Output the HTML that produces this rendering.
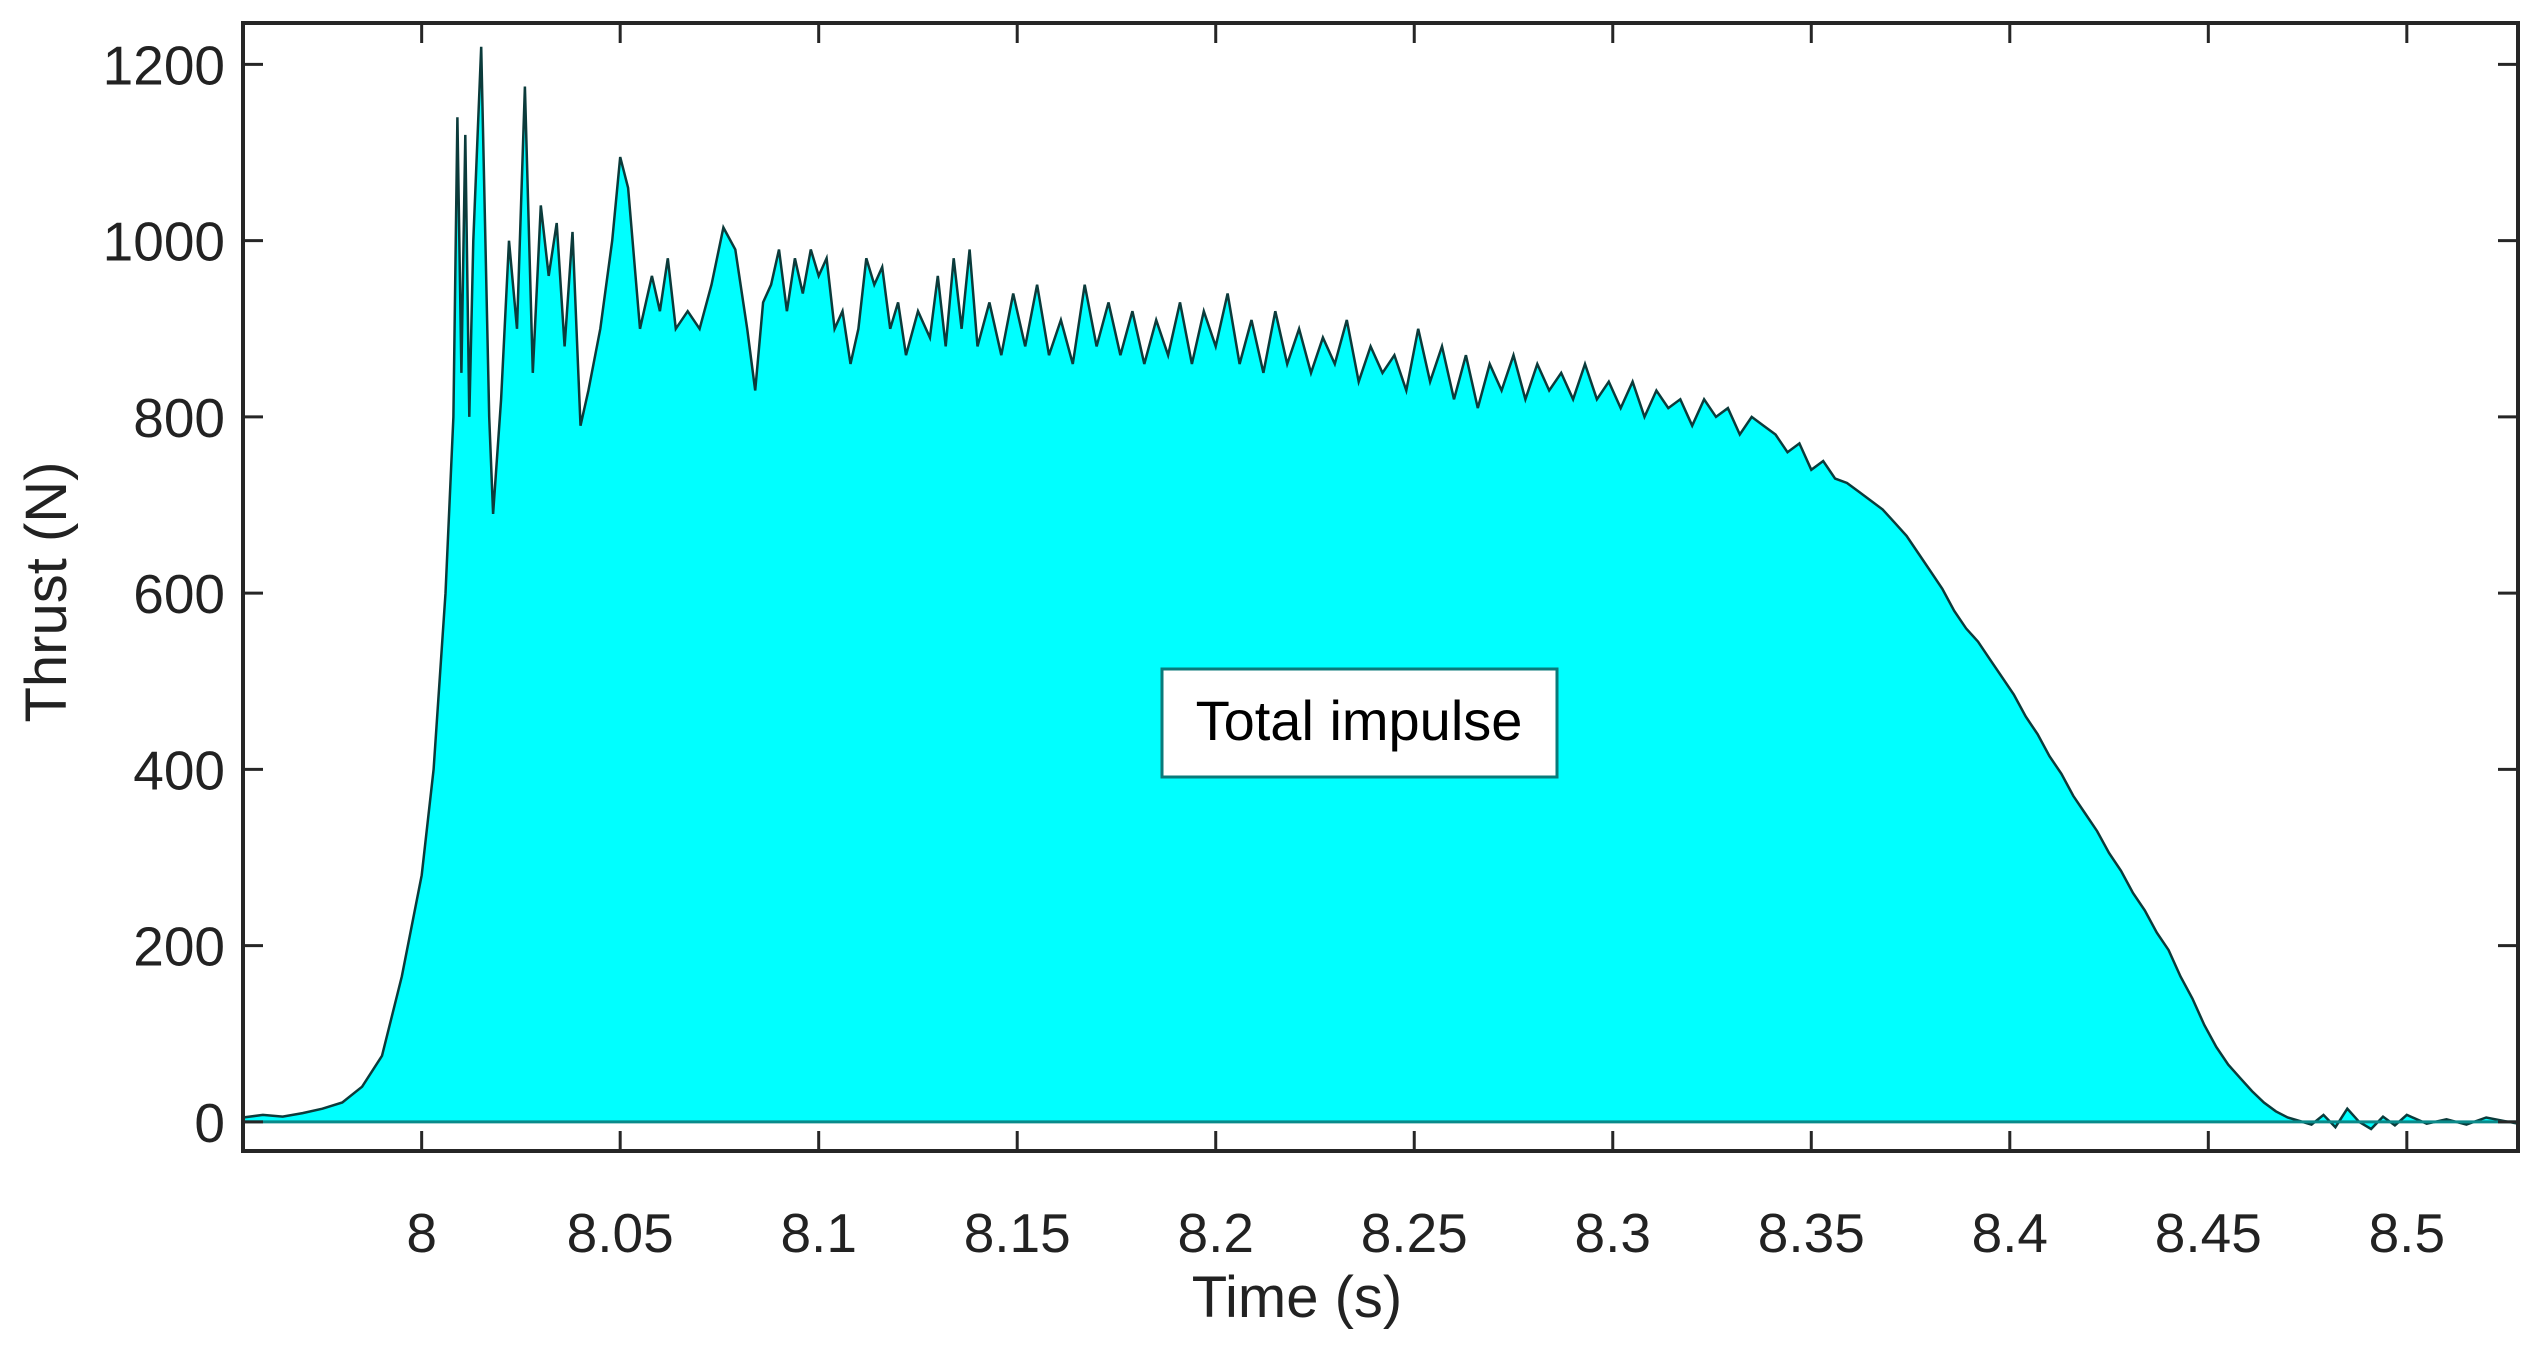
<!DOCTYPE html>
<html><head><meta charset="utf-8">
<style>
html,body{margin:0;padding:0;background:#fff;}
svg{display:block;font-family:"Liberation Sans",Arial,sans-serif;}
</style></head>
<body>
<svg id="chart" width="2542" height="1356" viewBox="0 0 2542 1356" xmlns="http://www.w3.org/2000/svg">
<rect x="0" y="0" width="2542" height="1356" fill="#fff"/>
<g id="plot"></g>
<g id="axes"></g>
<g>
<rect x="1162" y="669" width="395" height="108" fill="#fff" stroke="#0a7a7a" stroke-width="3"/>
<text x="1359" y="740" font-size="56" text-anchor="middle" fill="#000">Total impulse</text>
</g>
<text x="1297" y="1317" font-size="58" text-anchor="middle" fill="#222">Time (s)</text>
<text x="0" y="0" font-size="58" text-anchor="middle" fill="#222" transform="translate(66,592) rotate(-90)">Thrust (N)</text>
</svg>
<script>
const times = [
7.955,7.96,7.965,7.97,7.975,7.98,7.985,7.99,7.995,8.0,
8.003,8.006,8.008,8.009,8.010,8.011,8.012,8.013,8.015,8.017,
8.018,8.020,8.022,8.024,8.026,8.028,8.030,8.032,8.034,8.036,
8.038,8.040,8.042,8.045,8.048,8.050,8.052,8.055,8.058,8.060,
8.062,8.064,8.067,8.070,8.073,8.076,8.079,8.082,8.084,8.086,
8.088,8.090,8.092,8.094,8.096,8.098,8.100,8.102,8.104,8.106,
8.108,8.110,8.112,8.114,8.116,8.118,8.120,8.122,8.125,8.128,
8.130,8.132,8.134,8.136,8.138,8.140,
8.143,8.146,8.149,8.152,8.155,8.158,8.161,8.164,8.167,8.170,
8.173,8.176,8.179,8.182,8.185,8.188,8.191,8.194,8.197,8.200,
8.203,8.206,8.209,8.212,8.215,8.218,8.221,8.224,8.227,8.230,
8.233,8.236,8.239,8.242,8.245,8.248,8.251,8.254,8.257,8.260,
8.263,8.266,8.269,8.272,8.275,8.278,8.281,8.284,8.287,8.290,
8.293,8.296,8.299,8.302,8.305,8.308,8.311,8.314,8.317,8.320,
8.323,8.326,8.329,8.332,8.335,8.338,8.341,8.344,8.347,8.350,
8.353,8.356,8.359,8.362,8.365,
8.368,8.371,8.374,8.377,8.380,8.383,8.386,8.389,8.392,8.395,
8.398,8.401,8.404,8.407,8.410,8.413,8.416,8.419,8.422,8.425,
8.428,8.431,8.434,8.437,8.440,8.443,8.446,8.449,8.452,8.455,
8.458,8.461,8.464,8.467,8.470,8.473,8.476,8.479,8.482,8.485,
8.488,8.491,8.494,8.497,8.500,8.505,8.510,8.515,8.520,8.528];
const thrust = [
5,8,6,10,15,22,40,75,165,280,
400,600,800,1140,850,1120,800,1000,1220,800,
690,820,1000,900,1175,850,1040,960,1020,880,
1010,790,830,900,1000,1095,1060,900,960,920,
980,900,920,900,950,1015,990,900,830,930,
950,990,920,980,940,990,960,980,900,920,
860,900,980,950,970,900,930,870,920,890,
960,880,980,900,990,880,
930,870,940,880,950,870,910,860,950,880,
930,870,920,860,910,870,930,860,920,880,
940,860,910,850,920,860,900,850,890,860,
910,840,880,850,870,830,900,840,880,820,
870,810,860,830,870,820,860,830,850,820,
860,820,840,810,840,800,830,810,820,790,
820,800,810,780,800,790,780,760,770,740,
750,730,725,715,705,
695,680,665,645,625,605,580,560,545,525,
505,485,460,440,415,395,370,350,330,305,
285,260,240,215,195,165,140,110,85,65,
50,35,22,12,5,1,-3,8,-6,15,
0,-8,6,-4,8,-2,3,-3,5,-2];
const X0=7.955, X1=8.528, Y0=-33, Y1=1247;
const L=243, R=2518, T=23, B=1151;
const xTicks=[8,8.05,8.1,8.15,8.2,8.25,8.3,8.35,8.4,8.45,8.5];
const xTickLabels=["8","8.05","8.1","8.15","8.2","8.25","8.3","8.35","8.4","8.45","8.5"];
const yTicks=[0,200,400,600,800,1000,1200];
const yTickLabels=["0","200","400","600","800","1000","1200"];
function xs(v){return L+(v-X0)/(X1-X0)*(R-L);}
function ys(v){return B-(v-Y0)/(Y1-Y0)*(B-T);}
const NS="http://www.w3.org/2000/svg";
const plot=document.getElementById('plot');
const axes=document.getElementById('axes');
const n=Math.min(times.length,thrust.length);
let pts=[];
for(let i=0;i<n;i++){pts.push(xs(times[i]).toFixed(1)+','+ys(thrust[i]).toFixed(1));}
const area=document.createElementNS(NS,'path');
area.setAttribute('d','M'+xs(times[0])+','+ys(0)+' L'+pts.join(' L')+' L'+xs(times[n-1])+','+ys(0)+' Z');
area.setAttribute('fill','#00ffff');


plot.appendChild(area);
const line=document.createElementNS(NS,'path');
line.setAttribute('d','M'+pts.join(' L'));
line.setAttribute('fill','none');
line.setAttribute('stroke','#0b3b3b');
line.setAttribute('stroke-width','2.5');


plot.appendChild(line);
const base=document.createElementNS(NS,'line');
base.setAttribute('x1',L);base.setAttribute('x2',R);
base.setAttribute('y1',ys(0));base.setAttribute('y2',ys(0));
base.setAttribute('stroke','#0a8a8a');base.setAttribute('stroke-width','3');


plot.appendChild(base);
const frame=document.createElementNS(NS,'rect');
frame.setAttribute('x',L);frame.setAttribute('y',T);
frame.setAttribute('width',R-L);frame.setAttribute('height',B-T);
frame.setAttribute('fill','none');frame.setAttribute('stroke','#262626');frame.setAttribute('stroke-width','4');


axes.appendChild(frame);
xTicks.forEach((v,i)=>{
  const x=xs(v);
  [[B,B-20],[T,T+20]].forEach(p=>{
    const tk=document.createElementNS(NS,'line');
    tk.setAttribute('x1',x);tk.setAttribute('x2',x);tk.setAttribute('y1',p[0]);tk.setAttribute('y2',p[1]);
    tk.setAttribute('stroke','#262626');tk.setAttribute('stroke-width','3');
    
    
    axes.appendChild(tk);
  });
  const tx=document.createElementNS(NS,'text');
  tx.setAttribute('x',x);tx.setAttribute('y',1252);
  tx.setAttribute('font-size','55');tx.setAttribute('text-anchor','middle');tx.setAttribute('fill','#222');
  tx.textContent=xTickLabels[i];
  
  
  axes.appendChild(tx);
});
yTicks.forEach((v,i)=>{
  const y=ys(v);
  [[L,L+20],[R,R-20]].forEach(p=>{
    const tk=document.createElementNS(NS,'line');
    tk.setAttribute('x1',p[0]);tk.setAttribute('x2',p[1]);tk.setAttribute('y1',y);tk.setAttribute('y2',y);
    tk.setAttribute('stroke','#262626');tk.setAttribute('stroke-width','3');
    
    
    axes.appendChild(tk);
  });
  const tx=document.createElementNS(NS,'text');
  tx.setAttribute('x',225);tx.setAttribute('y',y+20);
  tx.setAttribute('font-size','55');tx.setAttribute('text-anchor','end');tx.setAttribute('fill','#222');
  tx.textContent=yTickLabels[i];
  
  
  axes.appendChild(tx);
});
</script>
</body></html>
